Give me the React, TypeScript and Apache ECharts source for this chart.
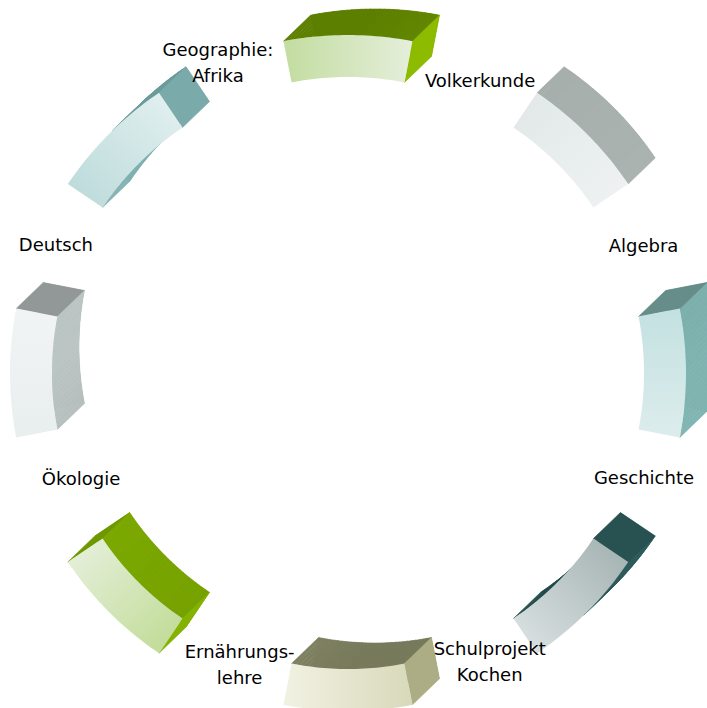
import React, { useEffect, useRef } from 'react';
import * as echarts from 'echarts';

// ---- data ----
const labels = [
  'Volkerkunde',
  'Algebra',
  'Geschichte',
  'Schulprojekt\nKochen',
  'Ernährungs-\nlehre',
  'Ökologie',
  'Deutsch',
  'Geographie:\nAfrika',
];
const segmentAngles = [0, 45, 90, 135, 180, 225, 270, 315];
const segmentSpan = 22;
const ringOuter = 338;
const ringInner = 296;

// ---- styles / layout ----
const frontDark = ['#c4dda2', '#e3e9e9', '#c4e1e1', '#a8b6b5', '#d9d9bb', '#c3dd9b', '#e9eeee', '#bfdcdc'];
const frontLight = ['#e4eed9', '#edf1f1', '#dcecec', '#d6dede', '#f1f1e2', '#e3eed6', '#f1f4f4', '#dfeeee'];
const sideUp = ['#5c7f00', '#a0a8a6', '#668d89', '#244c4c', '#777a5b', '#6e9800', '#8c9292', '#6c9c9c'];
const sideRight = ['#8cbb00', '#b2bab8', '#80b5b2', '#2f5d5d', '#b4b48b', '#84b200', '#bcc6c4', '#82b2b2'];
const labelAnchorR = [321, 322, 314, 321, 311, 287, 319, 337];
const labelAnchorA = [24.3, 66.6, 109.5, 153.8, 200.4, 248.5, 293.7, 337.3];
const EXT: [number, number] = [27, -26];

function hexToRgb(h: string) {
  const v = parseInt(h.slice(1), 16);
  return [(v >> 16) & 255, (v >> 8) & 255, v & 255];
}
function mix(a: string, b: string, t: number) {
  const A = hexToRgb(a), B = hexToRgb(b);
  const c = A.map((x, i) => Math.round(x + (B[i] - x) * t));
  return `rgb(${c[0]},${c[1]},${c[2]})`;
}
const norm = (a: number) => ((a % 360) + 360) % 360;

function renderSegment(params: any, api: any) {
  const i = params.dataIndex;
  const rOut = api.value(0);
  const c = api.value(1);
  const rIn = api.value(2);
  const N = 28;
  const a0 = c - segmentSpan / 2;
  const a1 = c + segmentSpan / 2;
  const outer: number[][] = [];
  const inner: number[][] = [];
  for (let k = 0; k <= N; k++) {
    const a = norm(a0 + ((a1 - a0) * k) / N);
    outer.push(api.coord([rOut, a]));
    inner.push(api.coord([rIn, a]));
  }
  const poly = outer.concat(inner.slice().reverse());
  let area2 = 0;
  for (let k = 0; k < poly.length; k++) {
    const p = poly[k], q = poly[(k + 1) % poly.length];
    area2 += p[0] * q[1] - q[0] * p[1];
  }
  const children: any[] = [];
  const back = poly.map((p) => [p[0] + EXT[0], p[1] + EXT[1]]);
  children.push({ type: 'polygon', shape: { points: back }, style: { fill: sideUp[i] } });
  for (let k = 0; k < poly.length; k++) {
    const p = poly[k], q = poly[(k + 1) % poly.length];
    const dx = q[0] - p[0], dy = q[1] - p[1];
    const len = Math.hypot(dx, dy);
    if (len < 1e-6) continue;
    let nx = area2 > 0 ? dy : -dy;
    let ny = area2 > 0 ? -dx : dx;
    nx /= len; ny /= len;
    if (nx * EXT[0] + ny * EXT[1] <= 0) continue;
    const phi = (Math.atan2(nx, -ny) * 180) / Math.PI;
    const t = Math.max(0, Math.min(1, phi / 90));
    const col = mix(sideUp[i], sideRight[i], t);
    children.push({
      type: 'polygon',
      shape: { points: [p, q, [q[0] + EXT[0], q[1] + EXT[1]], [p[0] + EXT[0], p[1] + EXT[1]]] },
      style: { fill: col, stroke: col, lineWidth: 0.6 },
    });
  }
  const m0 = api.coord([(rIn + rOut) / 2, norm(a0)]);
  const m1 = api.coord([(rIn + rOut) / 2, norm(a1)]);
  children.push({
    type: 'polygon',
    shape: { points: poly },
    style: {
      fill: new echarts.graphic.LinearGradient(m0[0], m0[1], m1[0], m1[1], [
        { offset: 0, color: frontDark[i] },
        { offset: 1, color: frontLight[i] },
      ], true),
    },
  });
  return { type: 'group', children };
}

function renderLabel(params: any, api: any) {
  const i = params.dataIndex;
  const p = api.coord([api.value(0), api.value(1)]);
  return {
    type: 'text',
    x: p[0],
    y: p[1],
    style: {
      text: labels[i],
      fill: '#000000',
      fontSize: 18,
      fontFamily: '"DejaVu Sans", Verdana, sans-serif',
      align: 'center',
      verticalAlign: 'middle',
      lineHeight: 26,
    },
  };
}

export default function App() {
  const ref = useRef<HTMLDivElement>(null);
  useEffect(() => {
    if (!ref.current) return;
    const chart = echarts.init(ref.current, undefined, { renderer: 'svg' });
    chart.setOption({
      animation: false,
      backgroundColor: '#ffffff',
      polar: { center: [348, 373], radius: ringOuter },
      angleAxis: { type: 'value', min: 0, max: 360, startAngle: 90, clockwise: true, show: false },
      radiusAxis: { type: 'value', min: 0, max: ringOuter, show: false },
      series: [
        {
          type: 'custom',
          coordinateSystem: 'polar',
          silent: true,
          dimensions: ['radius', 'angle', 'inner'],
          encode: { radius: 0, angle: 1 },
          data: segmentAngles.map((a) => [ringOuter, a, ringInner]),
          renderItem: renderSegment,
          z: 2,
        },
        {
          type: 'custom',
          coordinateSystem: 'polar',
          silent: true,
          dimensions: ['radius', 'angle'],
          encode: { radius: 0, angle: 1 },
          data: labels.map((_, i) => [labelAnchorR[i], labelAnchorA[i]]),
          renderItem: renderLabel,
          z: 5,
        },
      ],
    });
    return () => chart.dispose();
  }, []);
  return (
    <div
      ref={ref}
      style={{ position: 'fixed', left: 0, top: 0, width: 707, height: 708, background: '#fff' }}
    />
  );
}
